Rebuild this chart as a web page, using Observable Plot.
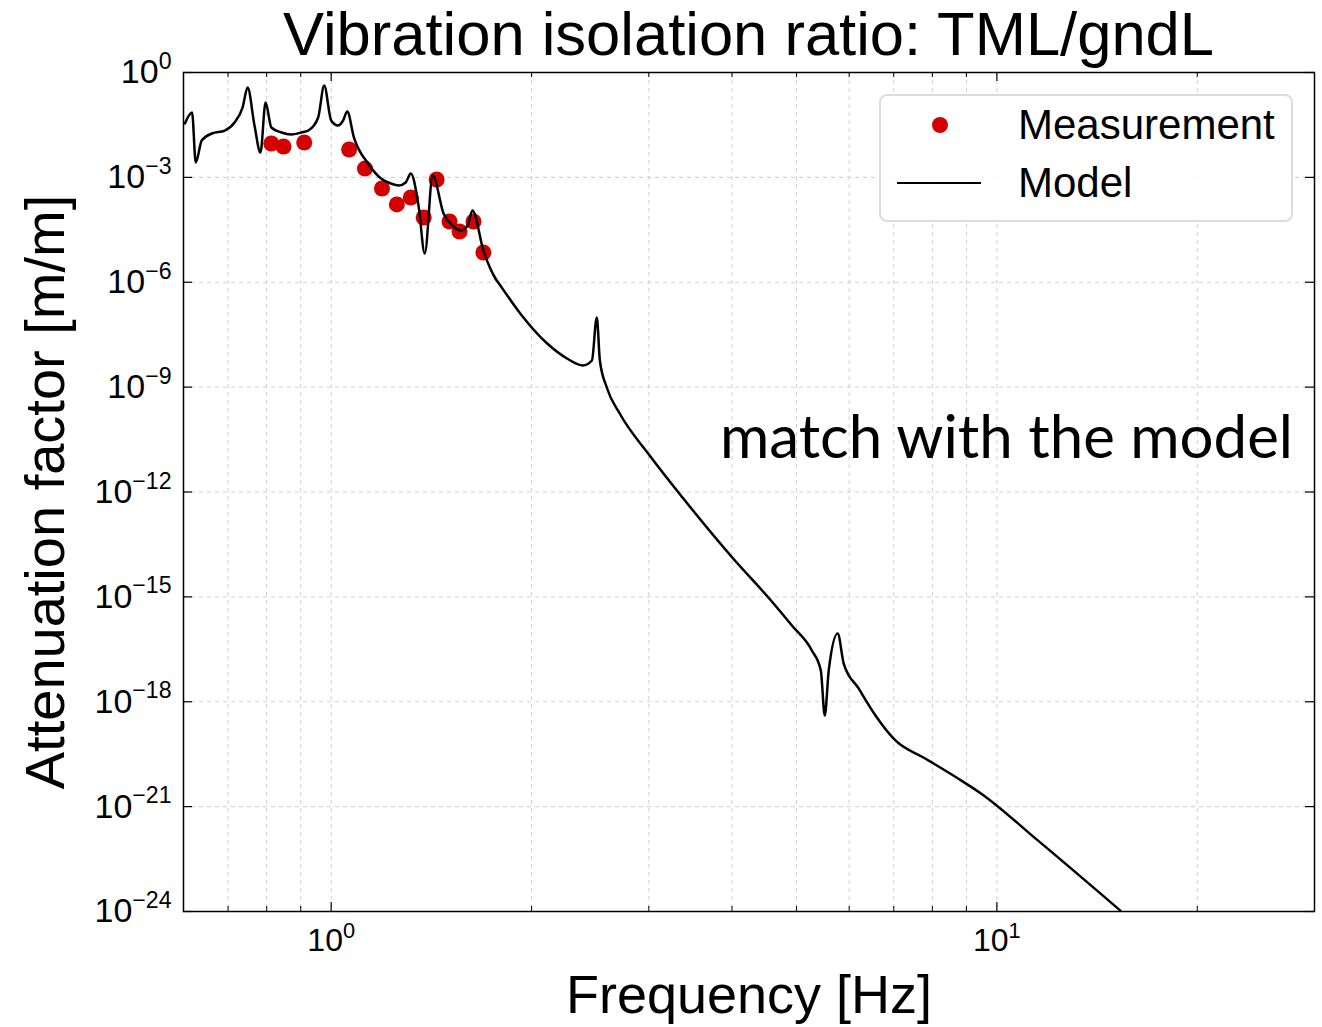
<!DOCTYPE html>
<html>
<head>
<meta charset="utf-8">
<script src="https://cdn.jsdelivr.net/npm/d3@7"></script>
<script src="https://cdn.jsdelivr.net/npm/@observablehq/plot@0.6"></script>
<style>
  html, body { margin: 0; padding: 0; background: #fff; }
  #wrap { position: relative; width: 1322px; height: 1027px; overflow: hidden; font-family: "Liberation Sans", Arial, Helvetica, sans-serif; color: #000; }
  #title { height: 60px; line-height: 68px; font-size: 61.5px; margin-left: 183px; width: 1131px; text-align: center; white-space: nowrap; overflow: visible; }
  #legend { position: absolute; left: 879px; top: 94px; width: 414px; height: 128px; box-sizing: border-box; border: 2px solid #dcdcdc; border-radius: 8px; background: rgba(255,255,255,0.85); }
  #legend .dot { position: absolute; left: 51px; top: 21px; width: 16px; height: 16px; border-radius: 50%; background: #d40000; }
  #legend .ln { position: absolute; left: 16px; top: 86px; width: 84px; height: 2.4px; background: #000; }
  #legend .lbl { position: absolute; left: 137px; font-size: 42px; line-height: 42px; white-space: nowrap; }
  #note { position: absolute; right: 29px; top: 399px; font-family: Lato, "Open Sans", sans-serif; font-size: 60px; line-height: 72px; white-space: nowrap; }
</style>
</head>
<body>
<div id="wrap">
  <div id="title">Vibration isolation ratio: TML/gndL</div>
  <div id="chart"></div>
  <div id="legend">
    <div class="dot"></div>
    <div class="ln"></div>
    <div class="lbl" style="top:8px">Measurement</div>
    <div class="lbl" style="top:66px">Model</div>
  </div>
  <div id="note">match with the model</div>
</div>
<script>
// Model curve (frequency in Hz, attenuation in m/m)
const modelFreq = [0.603, 0.618, 0.626, 0.639, 0.662, 0.692, 0.716, 0.736, 0.749, 0.767, 0.783, 0.797, 0.813, 0.842, 0.871, 0.902, 0.924, 0.956, 0.976, 1.0, 1.024, 1.042, 1.057, 1.082, 1.136, 1.188, 1.229, 1.264, 1.294, 1.317, 1.354, 1.382, 1.421, 1.475, 1.522, 1.564, 1.603, 1.630, 1.693, 1.765, 1.795, 1.923, 2.111, 2.261, 2.388, 2.464, 2.506, 2.533, 2.594, 2.713, 3.009, 3.371, 4.004, 4.578, 4.921, 5.273, 5.439, 5.514, 5.590, 5.766, 5.887, 6.199, 6.571, 7.041, 7.805, 8.744, 9.464, 11.52, 15.32];
const modelAtten = [3.5e-2, 7.2e-2, 2.67e-3, 1.13e-2, 1.8e-2, 2.19e-2, 3.71e-2, 9.97e-2, 3.72e-1, 3.05e-2, 5.15e-3, 1.39e-1, 2.67e-2, 1.92e-2, 1.68e-2, 1.92e-2, 2.19e-2, 5.16e-2, 4.25e-1, 4.24e-2, 3.05e-2, 4.24e-2, 7.66e-2, 1.38e-2, 2.49e-3, 9.29e-4, 6.68e-4, 5.86e-4, 7.14e-4, 1.29e-3, 1.37e-4, 6.65e-6, 1.13e-3, 9.26e-5, 4.2e-5, 3.02e-5, 4.2e-5, 1.13e-4, 8.1e-6, 1.28e-6, 8.08e-7, 1.28e-7, 1.77e-8, 6.6e-9, 4.16e-9, 5.78e-9, 9.82e-8, 5.78e-9, 9.76e-10, 1.76e-10, 1.11e-11, 6.97e-13, 1.34e-14, 7.89e-16, 1.52e-16, 2.93e-17, 7.85e-18, 4.05e-19, 7.85e-18, 8.98e-17, 1.24e-17, 2.4e-18, 4.05e-19, 7.8e-20, 2.38e-20, 6.39e-21, 2.38e-21, 1.08e-22, 1.07e-24];

// Measurement points
const measFreq = [0.813, 0.848, 0.911, 1.064, 1.124, 1.192, 1.255, 1.317, 1.377, 1.440, 1.506, 1.559, 1.636, 1.693];
const measAtten = [9.3e-3, 7.64e-3, 9.95e-3, 6.27e-3, 1.79e-3, 4.81e-4, 1.68e-4, 2.66e-4, 7.12e-5, 8.7e-4, 5.47e-5, 2.83e-5, 5.47e-5, 7.1e-6];

// Ticks
const yTicks = [1, 1e-3, 1e-6, 1e-9, 1e-12, 1e-15, 1e-18, 1e-21, 1e-24];
const yTickLabels = ["10^0", "10^\u22123", "10^\u22126", "10^\u22129", "10^\u221212", "10^\u221215", "10^\u221218", "10^\u221221", "10^\u221224"];
const xMajor = [1, 10];
const xTickLabels = ["10^0", "10^1"];
const xMinor = [0.7, 0.8, 0.9, 2, 3, 4, 5, 6, 7, 8, 9, 20];

const model = modelFreq.map((f, i) => ({f, a: modelAtten[i]}));
const meas = measFreq.map((f, i) => ({f, a: measAtten[i]}));
const yLab = new Map(yTicks.map((t, i) => [t, yTickLabels[i]]));
const xLab = new Map(xMajor.map((t, i) => [t, xTickLabels[i]]));

const W = 1322, H = 967, mL = 183, mR = 8, mT = 12, mB = 116;
const fw = W - mL - mR, fh = H - mT - mB;
const gridStyle = {stroke: "#cfcfcf", strokeOpacity: 1, strokeDasharray: "4,4", strokeWidth: 1};

const plot = Plot.plot({
  width: W, height: H,
  marginLeft: mL, marginRight: mR, marginTop: mT, marginBottom: mB,
  style: {fontFamily: "'Liberation Sans', Arial, Helvetica, sans-serif", background: "transparent", overflow: "visible", color: "black"},
  x: {type: "log", domain: [0.6, 30]},
  y: {type: "log", domain: [1e-24, 1]},
  marks: [
    Plot.gridX([...xMinor, ...xMajor], gridStyle),
    Plot.gridY(yTicks, gridStyle),
    Plot.dot(meas, {x: "f", y: "a", r: 8, fill: "#d40000", stroke: null}),
    Plot.line(model, {x: "f", y: "a", stroke: "black", strokeWidth: 2.5, curve: "monotone-x"}),
    Plot.frame({stroke: "black", strokeWidth: 1.5}),
    // inward ticks: bottom, top, left, right
    Plot.tickX(xMajor, {x: d => d, insetTop: fh - 9, stroke: "black", strokeWidth: 1.2}),
    Plot.tickX(xMinor, {x: d => d, insetTop: fh - 5, stroke: "black", strokeWidth: 1}),
    Plot.tickX(xMajor, {x: d => d, insetBottom: fh - 9, stroke: "black", strokeWidth: 1.2}),
    Plot.tickX(xMinor, {x: d => d, insetBottom: fh - 5, stroke: "black", strokeWidth: 1}),
    Plot.tickY(yTicks, {y: d => d, insetRight: fw - 9, stroke: "black", strokeWidth: 1.2}),
    Plot.tickY(yTicks, {y: d => d, insetLeft: fw - 9, stroke: "black", strokeWidth: 1.2}),
    Plot.axisX(xMajor, {tickSize: 0, tickPadding: 17, tickFormat: d => xLab.get(d), fontSize: 32, label: null}),
    Plot.axisY(yTicks, {tickSize: 0, tickPadding: 12, tickFormat: d => yLab.get(d), fontSize: 34, label: null}),
    Plot.text(["Frequency [Hz]"], {text: d => d, frameAnchor: "bottom", dy: 101, fontSize: 54, fill: "black"}),
    Plot.text(["Attenuation factor [m/m]"], {text: d => d, frameAnchor: "left", textAnchor: "middle", lineAnchor: "middle", dx: -137, rotate: -90, fontSize: 56, fill: "black"})
  ]
});

// superscripts for tick labels
const NS = "http://www.w3.org/2000/svg";
function supify(selector) {
  plot.querySelectorAll(selector).forEach(t => {
    const s = t.textContent;
    const k = s.indexOf("^");
    if (k < 0) return;
    t.textContent = "";
    const base = document.createElementNS(NS, "tspan");
    base.textContent = s.slice(0, k);
    const sup = document.createElementNS(NS, "tspan");
    sup.textContent = s.slice(k + 1);
    sup.setAttribute("font-size", "0.68em");
    sup.setAttribute("dy", "-0.62em");
    t.appendChild(base);
    t.appendChild(sup);
  });
}
supify('g[aria-label="y-axis tick label"] text');
supify('g[aria-label="x-axis tick label"] text');

document.getElementById("chart").appendChild(plot);
</script>
</body>
</html>
